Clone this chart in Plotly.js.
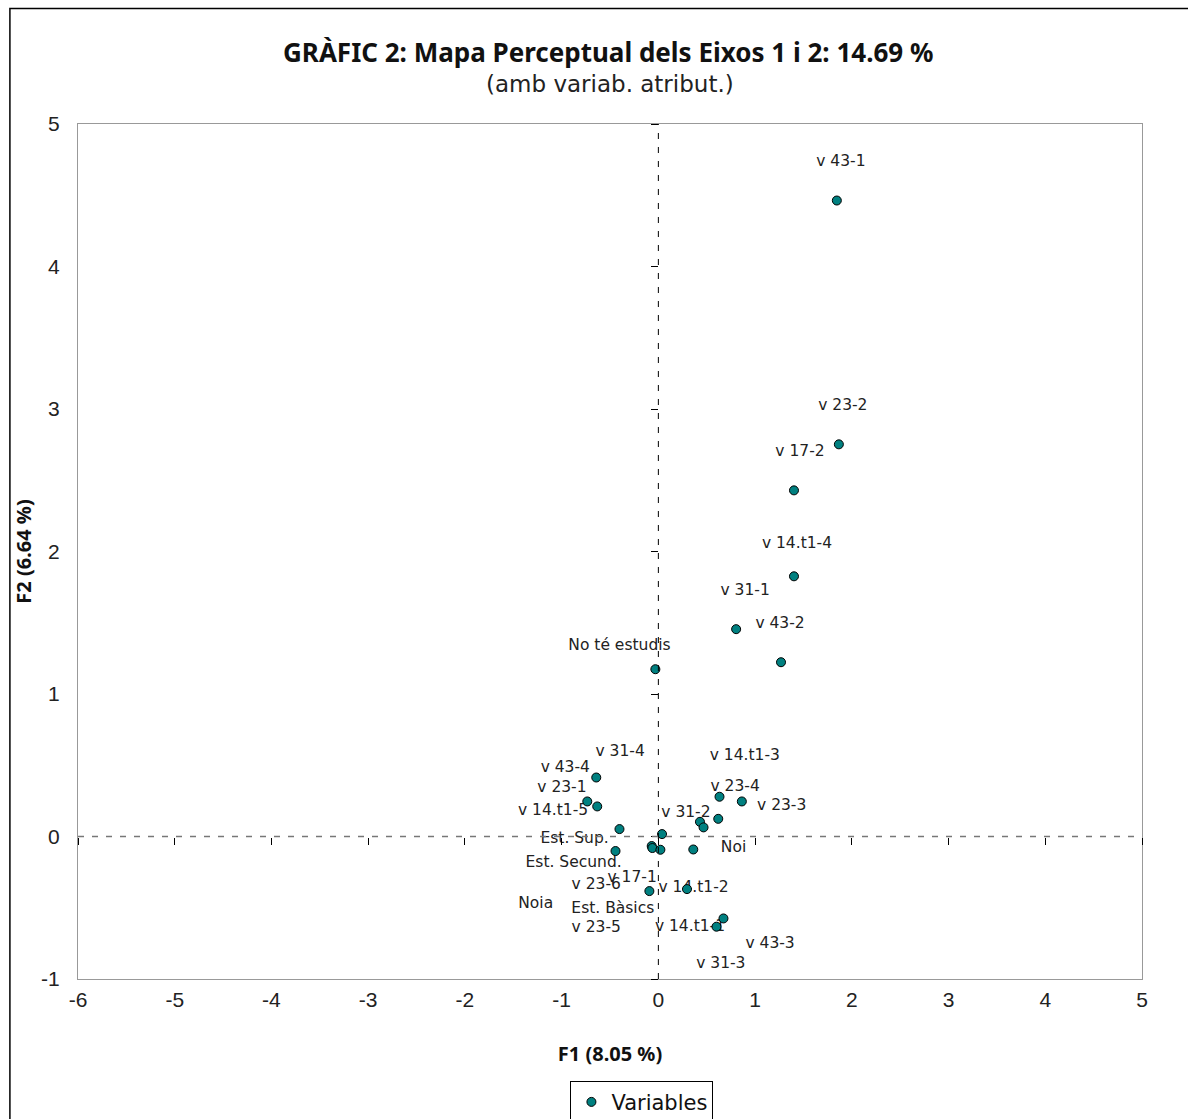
<!DOCTYPE html>
<html>
<head>
<meta charset="utf-8">
<script src="https://cdn.plot.ly/plotly-3.0.1.min.js"></script>
<style>html,body{margin:0;padding:0;background:#fff;}#chart{width:1188px;height:1119px;}</style>
</head>
<body>
<div id="chart"></div>
<script>
// Point coordinates (F1, F2)
const pointF1 = [1.845, 1.866, 1.402, 1.402, 0.804, 1.268, -0.031,
  -0.642, -0.735, -0.632, -0.402, -0.443, -0.069, -0.062, 0.038, 0.021, 0.361,
  0.430, 0.467, 0.619, 0.632, 0.863, -0.093, 0.296, 0.673, 0.601];
const pointF2 = [4.463, 2.752, 2.429, 1.826, 1.455, 1.223, 1.174,
  0.414, 0.246, 0.211, 0.052, -0.102, -0.067, -0.081, 0.017, -0.093, -0.091,
  0.103, 0.064, 0.124, 0.279, 0.246, -0.383, -0.369, -0.575, -0.633];

// Label texts and their positions (as placed in the chart)
const labelText = ["v 43-1", "v 23-2", "v 17-2", "v 14.t1-4", "v 31-1", "v 43-2", "No té estudis",
  "v 31-4", "v 43-4", "v 23-1", "v 14.t1-5", "v 14.t1-3", "v 23-4", "v 23-3", "v 31-2",
  "Est. Sup.", "Noi", "Est. Secund.", "v 23-6", "v 17-1", "v 14.t1-2", "Noia",
  "Est. Bàsics", "v 23-5", "v 14.t1-1", "v 43-3", "v 31-3"];
const labelF1 = [1.887, 1.907, 1.464, 1.433, 0.897, 1.258, -0.402,
  -0.395, -0.962, -0.997, -1.089, 0.894, 0.794, 1.275, 0.285,
  -0.866, 0.777, -0.876, -0.642, -0.271, 0.364, -1.268,
  -0.471, -0.642, 0.327, 1.155, 0.646];
const labelF2 = [4.735, 3.018, 2.695, 2.050, 1.720, 1.488, 1.334,
  0.593, 0.477, 0.341, 0.177, 0.563, 0.350, 0.214, 0.165,
  -0.021, -0.085, -0.190, -0.342, -0.291, -0.361, -0.473,
  -0.512, -0.646, -0.634, -0.753, -0.894];

const xTicks = [-6, -5, -4, -3, -2, -1, 0, 1, 2, 3, 4, 5];
const yTicks = [-1, 0, 1, 2, 3, 4, 5];
const xRange = [-6, 5];
const yRange = [-1, 5];

const labelFont = "DejaVu Sans, sans-serif";
const tickFont = "Liberation Sans Narrow, Liberation Sans, Arial, sans-serif";
const titleFont = "Noto Sans, sans-serif";

const traces = [
  {
    x: labelF1, y: labelF2, text: labelText,
    mode: 'text', type: 'scatter', showlegend: false, hoverinfo: 'skip',
    textposition: 'middle center',
    textfont: {family: labelFont, size: 15.5, color: '#222'}
  },
  {
    x: pointF1, y: pointF2, name: 'Variables',
    mode: 'markers', type: 'scatter',
    marker: {color: '#008080', size: 9, line: {color: '#000', width: 1}}
  },
  // empty trace so that the zero-crossing tick axes are drawn
  {
    x: [null], y: [null], xaxis: 'x2', yaxis: 'y2',
    mode: 'markers', type: 'scatter', showlegend: false, hoverinfo: 'skip'
  }
];

// position (paper fraction) of the zero-crossing lines
const zeroYfrac = (0 - yRange[0]) / (yRange[1] - yRange[0]);
const zeroXfrac = (0 - xRange[0]) / (xRange[1] - xRange[0]);

const layout = {
  width: 1188, height: 1119,
  paper_bgcolor: '#fff', plot_bgcolor: '#fff',
  margin: {l: 78, r: 46, t: 124, b: 140, autoexpand: false},
  showlegend: true,
  legend: {
    x: 0.53, xanchor: 'center', y: -0.119, yanchor: 'top',
    bordercolor: '#000', borderwidth: 1,
    font: {family: labelFont, size: 21, color: '#111'},
    itemwidth: 30
  },
  xaxis: {
    range: xRange, tickvals: xTicks, ticktext: xTicks.map(String),
    showgrid: false, zeroline: false, automargin: false,
    showline: true, linecolor: '#999', linewidth: 1, mirror: true,
    ticks: '', ticklabelstandoff: 2,
    tickfont: {family: tickFont, size: 21, color: '#222'},
    title: {text: '<b>F1 (8.05 %)</b>', font: {family: titleFont, size: 20, color: '#111'}, standoff: 36}
  },
  yaxis: {
    range: yRange, tickvals: yTicks, ticktext: yTicks.map(String),
    showgrid: false, zeroline: false, automargin: false,
    showline: true, linecolor: '#999', linewidth: 1, mirror: true,
    ticks: '', ticklabelstandoff: 13,
    tickfont: {family: tickFont, size: 21, color: '#222'},
    title: {text: '<b>F2 (6.64 %)</b>', font: {family: titleFont, size: 20, color: '#111'}, standoff: 4}
  },
  // tick marks along the zero-crossing dashed lines
  xaxis2: {
    overlaying: 'x', anchor: 'free', position: zeroYfrac, side: 'bottom',
    range: xRange, tickvals: xTicks, showticklabels: false, automargin: false,
    ticks: 'outside', ticklen: 7, tickcolor: '#000', tickwidth: 1,
    showline: false, showgrid: false, zeroline: false
  },
  yaxis2: {
    overlaying: 'y', anchor: 'free', position: zeroXfrac, side: 'left',
    range: yRange, tickvals: yTicks, showticklabels: false, automargin: false,
    ticks: 'outside', ticklen: 7, tickcolor: '#000', tickwidth: 1,
    showline: false, showgrid: false, zeroline: false
  },
  shapes: [
    {type: 'line', xref: 'x', yref: 'y', x0: 0, x1: 0, y0: yRange[0], y1: yRange[1],
     line: {color: '#000', width: 1, dash: '6px,8px'}},
    {type: 'line', xref: 'x', yref: 'y', x0: xRange[0], x1: xRange[1], y0: 0, y1: 0,
     line: {color: '#777', width: 1.5, dash: '6px,8px'}},
    {type: 'rect', xref: 'paper', yref: 'paper',
     x0: -0.064, x1: 1.1, y0: -0.3, y1: 1.135,
     line: {color: '#000', width: 1.5}, fillcolor: 'rgba(0,0,0,0)', layer: 'below'}
  ],
  annotations: [
    {xref: 'paper', yref: 'paper', x: 0.498, y: 1.084, xanchor: 'center', yanchor: 'middle',
     text: '<b>GRÀFIC 2: Mapa Perceptual dels Eixos 1 i 2: 14.69 %</b>', showarrow: false,
     font: {family: titleFont, size: 26, color: '#111'}},
    {xref: 'paper', yref: 'paper', x: 0.5, y: 1.047, xanchor: 'center', yanchor: 'middle',
     text: '(amb variab. atribut.)', showarrow: false,
     font: {family: labelFont, size: 23, color: '#222'}}
  ]
};

Plotly.newPlot('chart', traces, layout, {displayModeBar: false, staticPlot: true});
</script>
</body>
</html>
